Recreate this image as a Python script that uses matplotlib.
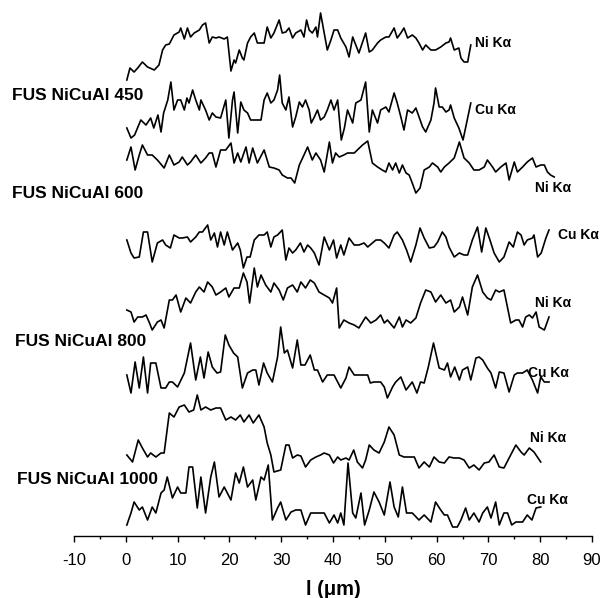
"""Line-scan EDS profiles (Ni Ka / Cu Ka) for FUS NiCuAl samples."""

import matplotlib
matplotlib.use("Agg")
import matplotlib.pyplot as plt
from matplotlib.ticker import MultipleLocator

plt.rcParams["font.family"] = ["Liberation Sans", "DejaVu Sans"]
plt.rcParams["axes.unicode_minus"] = False

# ---- data: distance (um) and intensity (a.u.) for each profile ----
ni_450_x = [0.2, 0.8, 1.6, 2.3, 3.2, 4.2, 5.5, 6.4, 7.1, 7.7, 8.4, 9.3, 10.3, 10.6, 11.3, 11.9, 12.5, 13.2,
            14.2, 14.8, 15.4, 16.1, 16.7, 17.4, 18.0, 19.0, 19.6, 20.3, 20.9, 21.2, 21.9, 22.5, 22.8, 23.5,
            24.1, 24.8, 25.4, 26.1, 26.7, 27.3, 28.0, 28.6, 29.6, 30.2, 30.9, 31.5, 32.2, 32.8, 33.8, 34.4,
            34.9, 35.4, 36.0, 36.7, 37.0, 37.6, 38.3, 38.9, 39.6, 40.2, 40.9, 41.5, 42.5, 43.1, 43.8, 44.4,
            45.0, 46.3, 47.0, 47.6, 48.6, 49.2, 50.2, 50.8, 51.8, 52.4, 53.1, 53.7, 54.4, 55.3, 56.0, 56.6,
            57.3, 57.9, 58.9, 59.8, 60.8, 61.8, 62.4, 62.7, 63.4, 64.3, 64.7, 65.3, 66.0, 66.6]
ni_450_y = [0, 12, 8, 12, 18, 13, 10, 15, 30, 35, 36, 45, 48, 52, 41, 52, 43, 47, 50, 55,
            57, 37, 43, 42, 43, 41, 43, 9, 20, 17, 30, 22, 20, 37, 43, 47, 37, 37, 37, 53,
            42, 47, 60, 47, 48, 52, 42, 47, 50, 43, 60, 50, 47, 53, 43, 67, 47, 30, 40, 50,
            50, 42, 33, 23, 43, 35, 27, 47, 28, 30, 37, 40, 43, 43, 52, 42, 47, 52, 42, 45,
            42, 37, 30, 35, 30, 30, 33, 37, 38, 42, 30, 32, 22, 18, 18, 35]

cu_450_x = [0.2, 1.0, 1.7, 2.9, 3.9, 4.8, 5.4, 6.2, 6.8, 7.3, 8.1, 8.7, 9.3, 10.0, 10.6, 11.3, 11.8, 12.2,
            12.9, 13.5, 14.2, 14.5, 15.4, 16.1, 16.7, 17.4, 18.3, 19.3, 19.9, 20.6, 20.9, 21.6, 22.2, 22.8,
            23.5, 24.1, 24.8, 26.1, 26.7, 27.3, 28.0, 28.6, 29.3, 29.7, 30.2, 30.9, 31.5, 32.2, 32.8, 33.5,
            34.1, 34.7, 35.4, 35.8, 36.4, 37.0, 37.6, 38.3, 38.9, 39.6, 40.2, 40.9, 41.6, 42.2, 42.8, 43.8,
            44.4, 45.4, 46.3, 47.0, 47.6, 48.6, 49.2, 50.2, 50.8, 51.8, 52.4, 53.1, 53.7, 54.4, 55.3, 56.0,
            57.3, 57.9, 58.9, 59.5, 59.8, 60.5, 61.1, 61.8, 62.4, 62.7, 63.4, 64.3, 65.1, 66.6]
cu_450_y = [12, 2, 5, 20, 15, 22, 12, 25, 8, 27, 40, 58, 30, 40, 40, 30, 42, 37, 50, 40,
            30, 40, 30, 20, 27, 23, 22, 40, 2, 40, 48, 7, 38, 30, 27, 20, 20, 20, 40, 47,
            37, 40, 50, 65, 37, 30, 43, 13, 23, 38, 33, 40, 30, 17, 23, 30, 20, 23, 30, 40,
            30, 40, 0, 12, 30, 17, 37, 40, 58, 8, 30, 17, 30, 33, 28, 47, 37, 23, 10, 30,
            27, 32, 13, 8, 20, 37, 52, 33, 33, 28, 30, 35, 22, 12, 0, 37]

ni_600_x = [0.2, 1.0, 1.8, 2.6, 3.2, 4.2, 5.1, 6.1, 7.4, 8.4, 9.3, 10.3, 10.9, 11.9, 12.5, 13.5, 14.5, 15.4,
            16.1, 16.7, 17.4, 18.3, 19.3, 20.3, 20.9, 21.6, 22.2, 23.2, 23.8, 24.5, 25.4, 26.7, 27.7, 28.6,
            29.6, 30.2, 31.2, 31.9, 32.6, 33.5, 34.4, 35.1, 36.0, 36.7, 37.6, 38.3, 39.3, 39.9, 40.5, 41.2,
            42.1, 42.8, 44.1, 44.7, 45.7, 46.7, 47.6, 48.6, 49.5, 50.2, 50.8, 51.5, 52.1, 52.8, 53.4, 54.1,
            54.7, 55.3, 56.0, 56.8, 57.6, 58.6, 59.2, 60.2, 60.8, 61.5, 62.4, 63.4, 64.4, 65.3, 66.3, 67.2,
            68.2, 69.2, 69.8, 70.8, 71.4, 72.4, 73.4, 74.0, 75.0, 75.6, 76.6, 77.5, 78.5, 79.2, 80.1, 80.8,
            81.4, 82.0, 82.7]
ni_600_y = [33, 46, 23, 38, 48, 38, 38, 33, 25, 38, 28, 31, 36, 28, 31, 38, 30, 35, 40, 40,
            26, 43, 43, 50, 30, 40, 31, 46, 30, 45, 30, 43, 26, 25, 23, 18, 15, 15, 10, 28,
            38, 46, 33, 40, 33, 21, 51, 30, 40, 36, 38, 40, 40, 43, 48, 52, 30, 26, 23, 21,
            30, 23, 30, 20, 28, 20, 18, 10, 0, 5, 23, 26, 30, 26, 21, 26, 30, 35, 51, 35,
            30, 23, 23, 26, 33, 26, 21, 26, 30, 13, 31, 21, 26, 31, 35, 26, 28, 28, 21, 18, 16]

cu_600_x = [0.2, 1.0, 1.6, 2.6, 3.4, 4.2, 5.1, 6.1, 7.1, 7.7, 8.6, 9.3, 10.3, 10.9, 11.9, 12.5, 13.5, 14.2,
            14.8, 15.8, 16.4, 17.1, 17.7, 18.3, 19.0, 19.6, 20.6, 21.6, 22.1, 22.7, 23.4, 24.0, 24.8, 25.7,
            26.7, 27.3, 28.0, 28.6, 29.3, 30.2, 30.9, 31.5, 32.2, 32.8, 33.7, 34.4, 35.1, 35.7, 36.4, 37.3,
            38.3, 39.3, 40.1, 40.7, 41.5, 42.1, 43.1, 44.1, 45.0, 46.0, 46.7, 47.6, 48.3, 49.2, 49.9, 50.8,
            51.8, 52.4, 53.4, 54.2, 55.0, 56.0, 56.8, 57.6, 58.6, 59.5, 60.2, 61.1, 61.8, 62.4, 63.4, 64.4,
            65.3, 66.0, 66.9, 67.9, 68.7, 69.5, 70.3, 71.1, 72.1, 73.0, 74.0, 74.8, 75.6, 76.3, 76.9, 77.5,
            78.5, 78.8, 79.5, 80.2, 81.1, 81.7]
cu_600_y = [28, 15, 10, 11, 36, 36, 6, 25, 28, 23, 20, 33, 30, 30, 31, 26, 31, 36, 36, 43,
            28, 35, 21, 36, 23, 36, 18, 25, 18, 0, 11, 11, 28, 33, 33, 36, 21, 31, 33, 38,
            8, 20, 15, 18, 25, 16, 23, 20, 15, 3, 31, 18, 28, 10, 23, 13, 30, 23, 23, 25,
            21, 25, 28, 28, 25, 20, 33, 36, 28, 18, 6, 23, 40, 30, 20, 21, 26, 36, 31, 21,
            11, 15, 13, 13, 28, 41, 16, 40, 28, 15, 6, 11, 26, 21, 36, 33, 23, 28, 30, 33,
            11, 15, 30, 38]

ni_800_x = [0.2, 1.0, 1.6, 2.3, 3.2, 3.9, 4.5, 5.1, 6.1, 6.8, 7.4, 8.4, 9.0, 9.7, 10.6, 11.6, 12.5, 13.5,
            14.2, 15.1, 15.8, 16.7, 17.4, 18.3, 19.3, 19.9, 20.9, 21.9, 22.7, 23.4, 23.9, 24.8, 25.4, 26.1,
            27.0, 28.0, 28.6, 29.6, 30.4, 31.2, 32.2, 33.1, 33.8, 34.7, 35.6, 36.4, 37.3, 38.3, 39.3, 39.9,
            40.7, 41.2, 42.1, 43.1, 44.1, 45.0, 46.3, 47.3, 48.3, 49.2, 49.9, 50.5, 51.8, 52.8, 53.4, 54.1,
            55.0, 56.0, 56.9, 57.9, 58.9, 59.8, 60.8, 61.8, 62.7, 63.4, 64.4, 65.0, 66.0, 66.9, 67.9, 68.9,
            69.8, 70.5, 71.4, 72.1, 73.0, 74.3, 75.3, 75.9, 76.6, 77.2, 77.9, 78.5, 79.2, 79.8, 80.8, 81.7]
ni_800_y = [20, 18, 8, 13, 13, 15, 8, 0, 8, 10, 2, 30, 30, 35, 18, 32, 27, 38, 43, 38,
            48, 43, 35, 38, 42, 33, 42, 42, 57, 48, 27, 62, 43, 55, 45, 38, 47, 40, 30, 42,
            45, 38, 48, 42, 50, 47, 38, 35, 32, 27, 42, 2, 10, 7, 5, 2, 13, 7, 10, 15,
            7, 10, 2, 13, 3, 10, 7, 12, 27, 40, 38, 28, 35, 27, 30, 18, 23, 33, 15, 43,
            55, 38, 32, 30, 40, 38, 40, 7, 10, 10, 3, 13, 15, 12, 18, 3, 0, 13]

cu_800_x = [0.2, 1.0, 1.8, 2.6, 3.4, 4.2, 4.8, 5.8, 6.8, 7.7, 8.4, 9.0, 10.0, 11.3, 12.5, 13.5, 14.4, 15.1,
            15.9, 16.7, 17.6, 18.3, 19.2, 19.9, 20.8, 21.6, 22.5, 23.5, 24.5, 25.1, 25.7, 26.6, 27.3, 28.3,
            29.3, 29.9, 30.6, 31.2, 32.2, 33.1, 33.8, 34.6, 35.6, 36.4, 37.0, 38.0, 38.9, 40.2, 41.5, 42.5,
            43.1, 44.1, 45.7, 46.7, 47.2, 47.9, 49.2, 49.9, 50.5, 51.5, 52.1, 53.1, 54.1, 55.3, 56.2, 56.9,
            57.6, 58.4, 59.4, 60.5, 61.5, 62.1, 62.7, 63.5, 64.4, 65.0, 66.0, 66.6, 67.6, 68.2, 68.9, 69.8,
            70.5, 71.4, 72.1, 73.0, 74.0, 75.0, 75.6, 76.6, 77.5, 78.5, 79.5, 80.1, 80.8, 81.7]
cu_800_y = [25, 7, 38, 12, 43, 7, 37, 37, 12, 12, 18, 18, 13, 27, 57, 20, 43, 22, 48, 33,
            27, 28, 65, 55, 47, 43, 12, 27, 30, 30, 15, 37, 27, 18, 43, 73, 47, 50, 32, 60,
            35, 35, 45, 30, 30, 18, 25, 25, 12, 22, 33, 25, 25, 25, 17, 18, 18, 13, 2, 13,
            18, 23, 10, 18, 7, 18, 17, 33, 57, 32, 30, 37, 23, 33, 20, 30, 33, 20, 42, 43,
            40, 32, 27, 12, 28, 27, 8, 25, 27, 27, 30, 20, 7, 23, 18, 18]

ni_1000_x = [0.2, 1.3, 2.4, 3.2, 4.2, 4.8, 5.8, 6.8, 7.4, 8.4, 9.3, 10.3, 11.3, 12.2, 13.1, 13.8, 14.5, 15.4,
             16.4, 17.4, 18.3, 19.3, 20.3, 21.2, 22.1, 22.8, 23.8, 24.6, 25.7, 26.7, 27.3, 28.0, 28.6, 29.9,
             30.9, 31.5, 32.2, 33.1, 33.8, 34.7, 35.7, 36.7, 37.6, 38.3, 39.3, 40.1, 40.9, 41.5, 42.5, 43.1,
             44.0, 44.7, 45.7, 46.3, 47.0, 47.9, 48.9, 49.9, 50.8, 51.8, 52.8, 53.7, 54.7, 55.7, 56.6, 57.6,
             58.6, 59.5, 60.5, 61.5, 62.4, 63.4, 64.4, 65.3, 66.3, 67.2, 68.2, 69.2, 70.1, 71.1, 72.1, 73.0,
             74.0, 75.3, 76.3, 76.9, 77.9, 78.8, 80.1]
ni_1000_y = [18, 11, 33, 25, 16, 20, 16, 20, 20, 60, 56, 66, 68, 61, 63, 78, 63, 66, 63, 65,
             65, 53, 56, 53, 58, 51, 58, 50, 58, 46, 30, 18, 1, 3, 28, 28, 15, 18, 17, 6,
             13, 16, 18, 20, 18, 10, 16, 13, 15, 13, 23, 11, 5, 13, 28, 23, 20, 31, 46, 38,
             18, 16, 16, 16, 5, 11, 6, 16, 11, 10, 16, 15, 15, 13, 5, 8, 3, 10, 11, 18,
             6, 5, 15, 28, 21, 18, 25, 21, 11]

cu_1000_x = [0.2, 1.0, 1.6, 2.6, 3.2, 4.2, 5.1, 5.8, 6.8, 7.4, 8.0, 9.0, 10.0, 10.6, 11.6, 12.2, 12.9, 13.8,
             14.5, 15.4, 16.4, 17.1, 18.0, 19.0, 20.3, 21.2, 21.9, 22.7, 23.5, 24.5, 25.1, 26.1, 26.7, 27.5,
             28.3, 29.3, 29.9, 30.9, 31.9, 32.8, 33.8, 34.7, 35.7, 37.0, 38.3, 39.3, 40.2, 40.9, 41.5, 42.1,
             42.9, 43.8, 44.4, 45.4, 46.1, 47.0, 47.9, 48.9, 49.9, 51.0, 51.8, 52.6, 53.4, 54.2, 55.3, 56.6,
             57.6, 58.9, 59.8, 60.8, 61.5, 62.1, 63.1, 64.0, 64.7, 65.6, 66.3, 67.2, 68.2, 68.9, 69.8, 70.5,
             71.4, 72.1, 73.0, 73.7, 74.5, 75.3, 76.6, 77.5, 78.4, 79.2, 80.1]
cu_1000_y = [2, 14, 25, 17, 20, 7, 20, 14, 34, 37, 50, 29, 40, 34, 34, 60, 60, 19, 50, 14,
             50, 65, 30, 40, 27, 54, 44, 60, 40, 47, 27, 50, 47, 62, 7, 19, 25, 7, 15, 17,
             17, 2, 14, 14, 14, 4, 12, 4, 14, 2, 64, 14, 9, 34, 2, 17, 35, 25, 12, 45,
             20, 10, 40, 14, 14, 7, 12, 5, 25, 17, 12, 12, 0, 0, 7, 19, 7, 14, 5, 14,
             20, 9, 25, 2, 14, 14, 2, 5, 5, 12, 7, 19, 20]

profiles = [
    (ni_450_x, ni_450_y), (cu_450_x, cu_450_y),
    (ni_600_x, ni_600_y), (cu_600_x, cu_600_y),
    (ni_800_x, ni_800_y), (cu_800_x, cu_800_y),
    (ni_1000_x, ni_1000_y), (cu_1000_x, cu_1000_y),
]
# vertical stacking offset of each profile
offsets = [456, 396, 343, 268, 206, 136, 63, 9]

sample_labels = ["FUS NiCuAl 450", "FUS NiCuAl 600", "FUS NiCuAl 800", "FUS NiCuAl 1000"]
line_labels = ["Ni K\u03b1", "Cu K\u03b1"] * 4

W, H = 607, 598


def fx(px):
    return px / W


def fy(py):
    return 1 - py / H


fig = plt.figure(figsize=(W / 100, H / 100), dpi=100)
ax = fig.add_axes([fx(74), fy(536), fx(592) - fx(74), fy(0) - fy(536)])

for (xs, ys), off in zip(profiles, offsets):
    ax.plot(xs, [v + off for v in ys], color="black", lw=1.2)

ax.set_xlim(-10, 90)
ax.set_ylim(0, 536)
ax.xaxis.set_major_locator(MultipleLocator(10))
ax.xaxis.set_minor_locator(MultipleLocator(5))
ax.tick_params(axis="x", which="major", direction="out", length=4, width=1.0,
               labelsize=12, pad=8)
ax.tick_params(axis="x", which="minor", direction="out", length=2.2, width=1.0)
ax.set_yticks([])
for side in ("left", "right", "top"):
    ax.spines[side].set_visible(False)
ax.spines["bottom"].set_linewidth(1.0)
ax.set_xlabel("l (\u03bcm)", fontsize=14.5, fontweight="bold", labelpad=9)

# sample names on the left
sample_pos = [(12, 95), (12, 193), (15, 342), (17, 480)]
for text, (px, py) in zip(sample_labels, sample_pos):
    fig.text(fx(px), fy(py), text, fontsize=12.5, fontweight="bold",
             ha="left", va="center")

# element line labels at the right end of each profile
line_pos = [(475, 43), (475, 110), (535, 188), (558, 235),
            (535, 303), (528, 373), (530, 438), (527, 500)]
for text, (px, py) in zip(line_labels, line_pos):
    fig.text(fx(px), fy(py), text, fontsize=10, fontweight="bold",
             ha="left", va="center")

fig.savefig("out.png", dpi=100)
plt.close(fig)
